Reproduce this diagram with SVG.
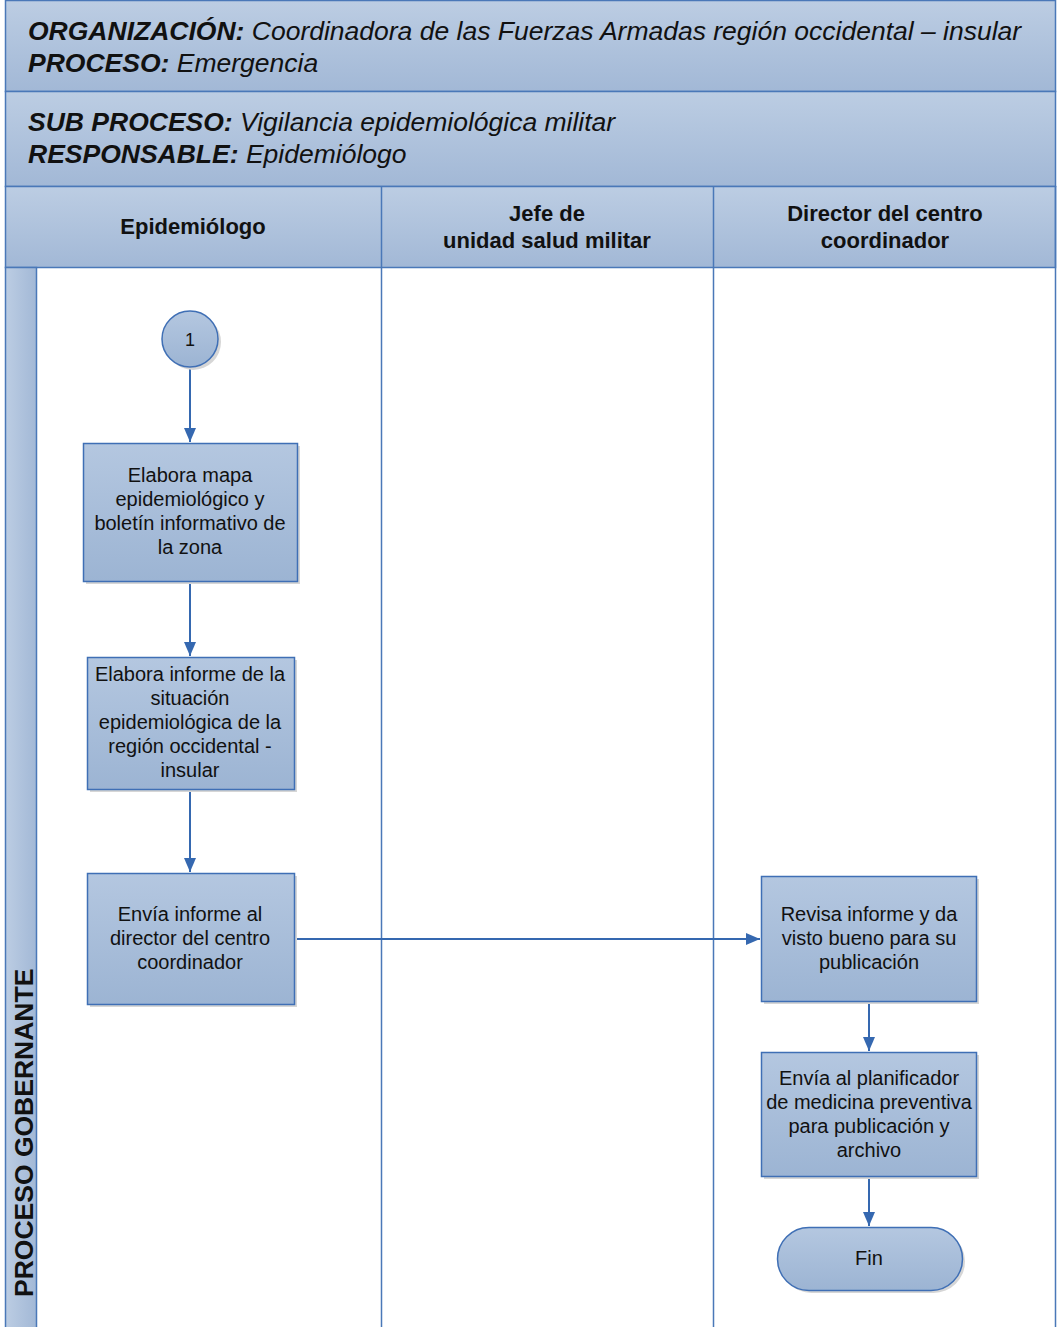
<svg xmlns="http://www.w3.org/2000/svg" width="1057" height="1327" viewBox="0 0 1057 1327">
  <style>
    .band { stroke: #4a78b8; stroke-width: 1.5; }
    .hdr { font-family: "Liberation Sans", Arial, sans-serif; font-size: 26.5px; font-style: italic; fill: #111; }
    .hdr .k { font-weight: bold; }
    .lane { font-family: "Liberation Sans", Arial, sans-serif; font-size: 22px; font-weight: bold; fill: #111; text-anchor: middle; }
    .lbl { font-family: "Liberation Sans", Arial, sans-serif; font-size: 20px; fill: #111; text-anchor: middle; }
    .shape { fill: url(#nodeFill); stroke: #3f6fb5; stroke-width: 1.5; }
    .shadow { fill: #d6d6d6; }
    .edge { fill: none; stroke: #3568b0; stroke-width: 2; marker-end: url(#arrow); }
    .divider { stroke: #4a78b8; stroke-width: 1.5; }
  </style>
  <defs>
    <linearGradient id="bandFill" x1="0" y1="0" x2="0" y2="1">
      <stop offset="0" stop-color="#bccde3"/>
      <stop offset="1" stop-color="#a2b8d6"/>
    </linearGradient>
    <linearGradient id="sideFill" x1="0" y1="0" x2="1" y2="0">
      <stop offset="0" stop-color="#bccde3"/>
      <stop offset="1" stop-color="#a2b8d6"/>
    </linearGradient>
    <linearGradient id="nodeFill" x1="0" y1="0" x2="0" y2="1">
      <stop offset="0" stop-color="#b4c7e0"/>
      <stop offset="1" stop-color="#9cb4d3"/>
    </linearGradient>
    <marker id="arrow" viewBox="0 0 14 12" refX="14" refY="6" markerWidth="14" markerHeight="12" markerUnits="userSpaceOnUse" orient="auto">
      <path d="M0,0 L14,6 L0,12 z" fill="#3568b0"/>
    </marker>
  </defs>

  <rect width="1057" height="1327" fill="#ffffff"/>

  <!-- title bands -->
  <g id="header">
    <rect class="band" x="5.5" y="0.5" width="1050" height="91" fill="url(#bandFill)"/>
    <rect class="band" x="5.5" y="91.5" width="1050" height="95" fill="url(#bandFill)"/>
    <text class="hdr" x="28" y="40"><tspan class="k">ORGANIZACIÓN:</tspan> Coordinadora de las Fuerzas Armadas región occidental – insular</text>
    <text class="hdr" x="28" y="72"><tspan class="k">PROCESO:</tspan> Emergencia</text>
    <text class="hdr" x="28" y="131"><tspan class="k">SUB PROCESO:</tspan> Vigilancia epidemiológica militar</text>
    <text class="hdr" x="28" y="163"><tspan class="k">RESPONSABLE:</tspan> Epidemiólogo</text>
  </g>

  <!-- swimlane headers -->
  <g id="lanes">
    <rect class="band" x="5.5" y="186.5" width="1050" height="81" fill="url(#bandFill)"/>
    <text class="lane" x="193" y="234">Epidemiólogo</text>
    <text class="lane" x="547" y="221">Jefe de</text>
    <text class="lane" x="547" y="248">unidad salud militar</text>
    <text class="lane" x="885" y="221">Director del centro</text>
    <text class="lane" x="885" y="248">coordinador</text>
    <line class="divider" x1="381.5" y1="186" x2="381.5" y2="1327"/>
    <line class="divider" x1="713.5" y1="186" x2="713.5" y2="1327"/>
    <line class="divider" x1="1055.5" y1="186" x2="1055.5" y2="1327"/>
    <rect class="band" x="5.5" y="267.5" width="31" height="1062" fill="url(#sideFill)"/>
    <text class="lane" transform="translate(33,1297) rotate(-90)" style="text-anchor:start;font-size:26.5px">PROCESO GOBERNANTE</text>
  </g>

  <!-- connectors -->
  <g id="connectors">
    <line class="edge" x1="190" y1="367" x2="190" y2="442"/>
    <line class="edge" x1="190" y1="581" x2="190" y2="656"/>
    <line class="edge" x1="190" y1="789" x2="190" y2="872"/>
    <line class="edge" x1="294" y1="939" x2="760" y2="939"/>
    <line class="edge" x1="869" y1="1001" x2="869" y2="1051"/>
    <line class="edge" x1="869" y1="1176" x2="869" y2="1226"/>
  </g>

  <g id="start">
    <circle class="shadow" cx="193" cy="342" r="28"/>
    <circle class="shape" cx="190" cy="339" r="28"/>
    <text class="lbl" x="190" y="346" style="font-size:18px">1</text>
  </g>

  <g id="mapa">
    <rect class="shadow" x="86" y="446" width="214" height="138"/>
    <rect class="shape" x="83.5" y="443.5" width="214" height="138"/>
    <text class="lbl" x="190" y="482">Elabora mapa</text>
    <text class="lbl" x="190" y="506">epidemiológico y</text>
    <text class="lbl" x="190" y="530">boletín informativo de</text>
    <text class="lbl" x="190" y="554">la zona</text>
  </g>

  <g id="informe">
    <rect class="shadow" x="90" y="660" width="207" height="132"/>
    <rect class="shape" x="87.5" y="657.5" width="207" height="132"/>
    <text class="lbl" x="190" y="681">Elabora informe de la</text>
    <text class="lbl" x="190" y="705">situación</text>
    <text class="lbl" x="190" y="729">epidemiológica de la</text>
    <text class="lbl" x="190" y="753">región occidental -</text>
    <text class="lbl" x="190" y="777">insular</text>
  </g>

  <g id="envia-director">
    <rect class="shadow" x="90" y="876" width="207" height="131"/>
    <rect class="shape" x="87.5" y="873.5" width="207" height="131"/>
    <text class="lbl" x="190" y="921">Envía informe al</text>
    <text class="lbl" x="190" y="945">director del centro</text>
    <text class="lbl" x="190" y="969">coordinador</text>
  </g>

  <g id="revisa">
    <rect class="shadow" x="764" y="879" width="215" height="125"/>
    <rect class="shape" x="761.5" y="876.5" width="215" height="125"/>
    <text class="lbl" x="869" y="921">Revisa informe y da</text>
    <text class="lbl" x="869" y="945">visto bueno para su</text>
    <text class="lbl" x="869" y="969">publicación</text>
  </g>

  <g id="envia-planificador">
    <rect class="shadow" x="764" y="1055" width="215" height="124"/>
    <rect class="shape" x="761.5" y="1052.5" width="215" height="124"/>
    <text class="lbl" x="869" y="1085">Envía al planificador</text>
    <text class="lbl" x="869" y="1109">de medicina preventiva</text>
    <text class="lbl" x="869" y="1133">para publicación y</text>
    <text class="lbl" x="869" y="1157">archivo</text>
  </g>

  <g id="fin">
    <rect class="shadow" x="780" y="1230" width="185" height="63" rx="31.5"/>
    <rect class="shape" x="777.5" y="1227.5" width="185" height="63" rx="31.5"/>
    <text class="lbl" x="869" y="1265">Fin</text>
  </g>
</svg>
